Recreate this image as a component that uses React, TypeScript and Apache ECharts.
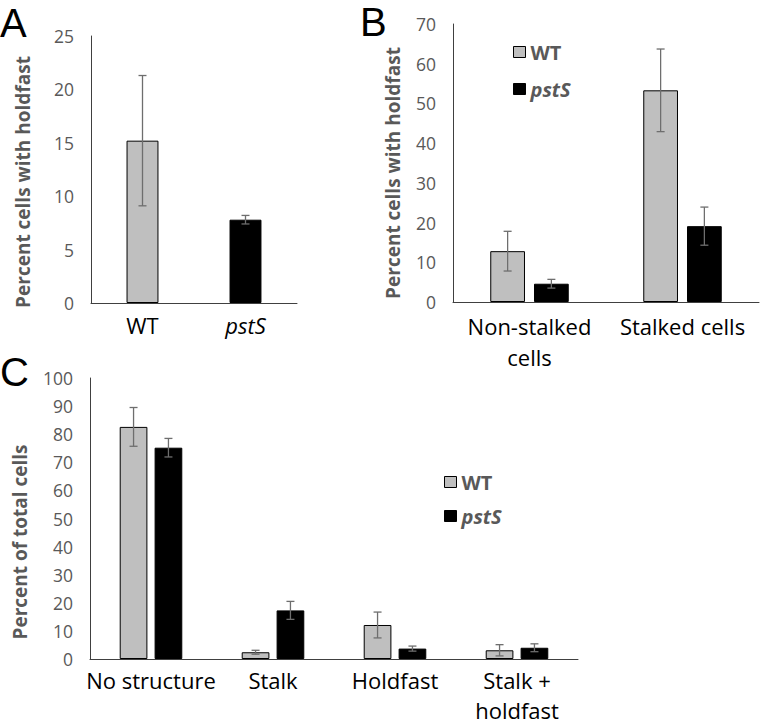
import React, { useEffect, useRef } from "react";
import * as echarts from "echarts";

// Panel A
const catsA = ["WT", "pstS"];
const valsA = [15.2, 7.8];
const errA = [6.1, 0.4];

// Panel B
const catsB = ["Non-stalked\ncells", "Stalked cells"];
const wtB = [12.8, 53.3];
const pstsB = [4.6, 19.1];
const errWtB = [5.0, 10.4];
const errPstsB = [1.1, 4.8];

// Panel C
const catsC = ["No structure", "Stalk", "Holdfast", "Stalk +\nholdfast"];
const wtC = [82.6, 2.4, 12.1, 3.1];
const pstsC = [75.2, 17.3, 3.7, 4.0];
const errWtC = [6.9, 0.7, 4.6, 2.0];
const errPstsC = [3.3, 3.2, 0.9, 1.4];

const FONT = "'Open Sans', sans-serif";
const GRAY_FILL = "#BFBFBF";
const TICK_COLOR = "#595959";
const AXIS_COLOR = "#404040";
const ERR_COLOR = "#6E6E6E";
const BAR_FRAC = 0.227;
const GAP_FRAC = 0.26;

function errSeries(
  name: string,
  xi: number,
  vals: number[],
  errs: number[],
  sign: number,
  barFrac: number
) {
  return {
    type: "custom",
    name: name,
    xAxisIndex: xi,
    yAxisIndex: xi,
    z: 10,
    silent: true,
    encode: { x: 0, y: 1 },
    data: vals.map((v, i) => [i, v, errs[i]]),
    renderItem: (params: any, api: any) => {
      const cat = api.value(0);
      const v = api.value(1);
      const e = api.value(2);
      const catW = api.size([1, 0])[0];
      const bw = catW * barFrac;
      const off = sign === 0 ? 0 : (sign * (bw + bw * GAP_FRAC)) / 2;
      const top = api.coord([cat, v + e]);
      const bot = api.coord([cat, v - e]);
      const x = top[0] + off;
      const cap = 4;
      const st = { stroke: ERR_COLOR, lineWidth: 1.3 };
      return {
        type: "group",
        children: [
          { type: "line", shape: { x1: x, y1: top[1], x2: x, y2: bot[1] }, style: st },
          { type: "line", shape: { x1: x - cap, y1: top[1], x2: x + cap, y2: top[1] }, style: st },
          { type: "line", shape: { x1: x - cap, y1: bot[1], x2: x + cap, y2: bot[1] }, style: st },
        ],
      };
    },
  };
}

function yAxis(gi: number, max: number, interval: number) {
  return {
    type: "value",
    gridIndex: gi,
    min: 0,
    max: max,
    interval: interval,
    axisLine: { show: true, lineStyle: { color: AXIS_COLOR, width: 1 } },
    axisTick: { show: false },
    splitLine: { show: false },
    axisLabel: { color: TICK_COLOR, fontSize: 17.5, fontFamily: FONT, margin: 17 },
  };
}

function xAxis(gi: number, cats: string[], lh: number, margin: number) {
  return {
    type: "category",
    gridIndex: gi,
    data: cats,
    axisLine: { show: true, lineStyle: { color: AXIS_COLOR, width: 1 } },
    axisTick: { show: false },
    axisLabel: {
      interval: 0,
      color: "#000",
      fontSize: 22,
      fontFamily: FONT,
      margin: margin,
      lineHeight: lh,
      formatter: (v: string) => (v === "pstS" ? "{i|pstS}" : v),
      rich: { i: { fontStyle: "italic", fontSize: 22, color: "#000", fontFamily: FONT } },
    },
  };
}

const legendRich = {
  b: { fontWeight: "bold", fontSize: 20, color: TICK_COLOR, fontFamily: FONT },
  i: { fontWeight: "bold", fontStyle: "italic", fontSize: 20, color: TICK_COLOR, fontFamily: FONT },
};

function legend(left: number, top: number, gap: number) {
  return {
    orient: "vertical",
    left: left,
    top: top,
    itemWidth: 12,
    itemHeight: 11,
    itemGap: gap,
    selectedMode: false,
    data: [
      { name: "WT", icon: "rect", itemStyle: { color: GRAY_FILL, borderColor: "#000", borderWidth: 1 } },
      { name: "pstS", icon: "rect", itemStyle: { color: "#000", borderColor: "#000", borderWidth: 1 } },
    ],
    formatter: (n: string) => (n === "pstS" ? "{i|pstS}" : "{b|WT}"),
    textStyle: { rich: legendRich },
  };
}

function yTitle(text: string, x: number, y: number) {
  return {
    type: "text",
    x: x,
    y: y,
    rotation: Math.PI / 2,
    style: {
      text: text,
      font: `bold 19px ${FONT}`,
      fill: TICK_COLOR,
      align: "center",
      verticalAlign: "middle",
    },
  };
}

function letter(text: string, x: number, y: number) {
  return {
    type: "text",
    x: x,
    y: y,
    style: {
      text: text,
      font: "40px 'Liberation Sans', sans-serif",
      fill: "#000",
      align: "left",
      verticalAlign: "top",
    },
  };
}

export default function App() {
  const ref = useRef<HTMLDivElement>(null);
  useEffect(() => {
    if (!ref.current) return;
    const chart = echarts.init(ref.current, null, { renderer: "svg" });
    const wtStyle = { color: GRAY_FILL, borderColor: "#000", borderWidth: 1 };
    const psStyle = { color: "#000", borderColor: "#000", borderWidth: 1 };
    const option: any = {
      animation: false,
      backgroundColor: "#fff",
      grid: [
        { left: 91, top: 36, width: 206, height: 267, containLabel: false, outerBoundsMode: "none" },
        { left: 453, top: 24, width: 306, height: 278, containLabel: false, outerBoundsMode: "none" },
        { left: 90, top: 378, width: 488, height: 281, containLabel: false, outerBoundsMode: "none" },
      ],
      xAxis: [xAxis(0, catsA, 30, 7), xAxis(1, catsB, 31, 8), xAxis(2, catsC, 30, 6)],
      yAxis: [yAxis(0, 25, 5), yAxis(1, 70, 10), yAxis(2, 100, 10)],
      legend: [legend(508, 37, 17), legend(439, 467, 14)],
      series: [
        {
          type: "bar",
          name: "WT",
          xAxisIndex: 1,
          yAxisIndex: 1,
          data: wtB,
          barWidth: BAR_FRAC * 100 + "%",
          barGap: GAP_FRAC * 100 + "%",
          itemStyle: wtStyle,
        },
        {
          type: "bar",
          name: "pstS",
          xAxisIndex: 1,
          yAxisIndex: 1,
          data: pstsB,
          barWidth: BAR_FRAC * 100 + "%",
          barGap: GAP_FRAC * 100 + "%",
          itemStyle: psStyle,
        },
        {
          type: "bar",
          name: "WT",
          xAxisIndex: 2,
          yAxisIndex: 2,
          data: wtC,
          barWidth: BAR_FRAC * 100 + "%",
          barGap: GAP_FRAC * 100 + "%",
          itemStyle: wtStyle,
        },
        {
          type: "bar",
          name: "pstS",
          xAxisIndex: 2,
          yAxisIndex: 2,
          data: pstsC,
          barWidth: BAR_FRAC * 100 + "%",
          barGap: GAP_FRAC * 100 + "%",
          itemStyle: psStyle,
        },
        {
          type: "bar",
          name: "A",
          xAxisIndex: 0,
          yAxisIndex: 0,
          barWidth: "31%",
          data: valsA.map((v, i) => ({ value: v, itemStyle: i === 0 ? wtStyle : psStyle })),
        },
        errSeries("errA", 0, valsA, errA, 0, 0.31),
        errSeries("errWtB", 1, wtB, errWtB, -1, BAR_FRAC),
        errSeries("errPstsB", 1, pstsB, errPstsB, 1, BAR_FRAC),
        errSeries("errWtC", 2, wtC, errWtC, -1, BAR_FRAC),
        errSeries("errPstsC", 2, pstsC, errPstsC, 1, BAR_FRAC),
      ],
      graphic: [
        letter("A", 0, 3),
        letter("B", 360, 2),
        letter("C", 0, 352),
        yTitle("Percent cells with holdfast", 23, 182),
        yTitle("Percent cells with holdfast", 393, 173),
        yTitle("Percent of total cells", 20, 542),
      ],
    };
    chart.setOption(option);
    return () => chart.dispose();
  }, []);
  return (
    <div
      ref={ref}
      style={{ position: "absolute", left: 0, top: 0, width: 760, height: 725 }}
    />
  );
}
